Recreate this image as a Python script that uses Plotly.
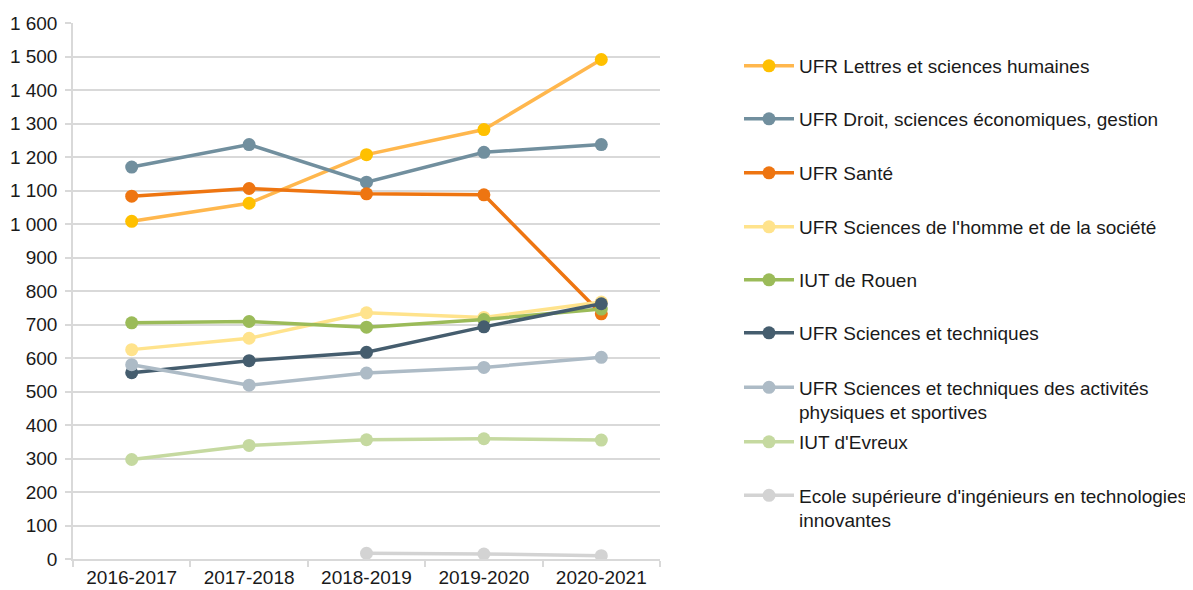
import plotly.graph_objects as go

years = ["2016-2017", "2017-2018", "2018-2019", "2019-2020", "2020-2021"]

names = [
    "UFR Lettres et sciences humaines",
    "UFR Droit, sciences économiques, gestion",
    "UFR Santé",
    "UFR Sciences de l'homme et de la société",
    "IUT de Rouen",
    "UFR Sciences et techniques",
    "UFR Sciences et techniques des activités<br>physiques et sportives",
    "IUT d'Evreux",
    "Ecole supérieure d'ingénieurs en technologies<br>innovantes",
]

lettres = [1008, 1062, 1207, 1282, 1491]
droit = [1170, 1237, 1125, 1214, 1237]
sante = [1083, 1106, 1090, 1087, 732]
shs = [625, 659, 735, 721, 767]
iut_rouen = [705, 709, 692, 715, 746]
sciences_tech = [556, 592, 617, 693, 762]
staps = [580, 519, 555, 572, 602]
iut_evreux = [297, 339, 356, 359, 355]
esi = [None, None, 17, 15, 10]

series = [lettres, droit, sante, shs, iut_rouen, sciences_tech, staps, iut_evreux, esi]
line_colors = ["#FFB74D", "#718F9E", "#EE7511", "#FFE38C", "#9BBB59",
               "#455D6E", "#ADBBC6", "#C5D9A0", "#D3D3D3"]
marker_colors = ["#FFC000", "#718F9E", "#EE7511", "#FFE38C", "#9BBB59",
                 "#455D6E", "#ADBBC6", "#C5D9A0", "#D3D3D3"]

# page body has an 8px margin: figure coordinates = screen coordinates - 8
OFF = 8
# legend first-line centres (screen pixels from top)
legend_y_px = [66, 119, 173, 227, 280, 333, 388, 442, 496]
legend_lines = [1, 1, 1, 1, 1, 1, 2, 1, 2]

W, H = 1193 - OFF, 590 - OFF
FONT = "Liberation Sans, Arial, sans-serif"
fig = go.Figure()
layout_legends = {}
for i, (nm, vals) in enumerate(zip(names, series)):
    key = "legend" if i == 0 else f"legend{i+1}"
    fig.add_trace(go.Scatter(
        x=years, y=vals, name=nm, mode="lines+markers",
        line=dict(color=line_colors[i], width=3.5),
        marker=dict(color=marker_colors[i], size=13),
        legend=key, connectgaps=False,
    ))
    yc = legend_y_px[i] - OFF + (legend_lines[i] - 1) * 12
    layout_legends[key] = dict(
        xref="container", yref="container",
        x=(739 - OFF) / W, y=1 - yc / H,
        xanchor="left", yanchor="middle",
        valign="top", itemwidth=50,
        font=dict(family=FONT, size=19, color="#1a1a1a"),
        bgcolor="rgba(0,0,0,0)", borderwidth=0,
    )

fig.update_layout(
    width=W, height=H,
    margin=dict(l=73 - OFF, r=W - (660 - OFF), t=23 - OFF, b=H - (559 - OFF), autoexpand=False),
    paper_bgcolor="white", plot_bgcolor="white",
    separators=", ",
    font=dict(family=FONT, size=19, color="#1a1a1a"),
    showlegend=True,
    **layout_legends,
)
fig.update_xaxes(
    type="category", range=[-0.5, len(years) - 0.5],
    showgrid=False, showline=True, linecolor="#D9D9D9", linewidth=1.5,
    ticks="outside", tickson="boundaries", ticklen=6, tickcolor="#D9D9D9", tickwidth=1.5,
    tickfont=dict(size=19), zeroline=False, automargin=False,
)
fig.update_yaxes(
    range=[0, 1600], dtick=100, tick0=0, tickformat=",d",
    showgrid=True, gridcolor="#D9D9D9", gridwidth=1.5,
    showline=True, linecolor="#D9D9D9", linewidth=1.5,
    ticks="outside", ticklen=6, tickcolor="#D9D9D9", tickwidth=1.5,
    ticklabelstandoff=4,
    tickfont=dict(size=19), zeroline=False, automargin=False,
)
fig.write_html("out.html")
